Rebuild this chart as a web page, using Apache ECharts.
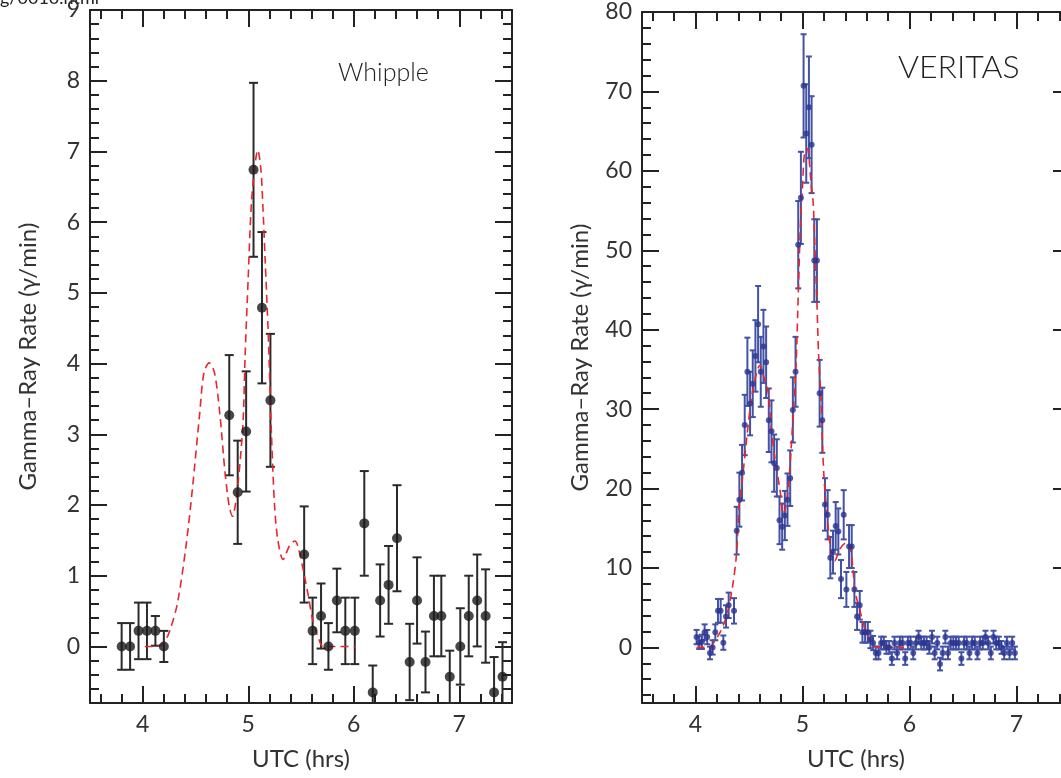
<!DOCTYPE html>
<html>
<head>
<meta charset="utf-8">
<script src="https://cdn.jsdelivr.net/npm/echarts@6/dist/echarts.min.js"></script>
<style>
html,body{margin:0;padding:0;background:#fff;}
#chart{width:1061px;height:778px;}
</style>
</head>
<body>
<div id="chart"></div>
<script>
// ---------- Whipple (left panel) ----------
const whippleTime = [3.80, 3.88, 3.96, 4.04, 4.12, 4.20, 4.82, 4.90, 4.98, 5.05, 5.13, 5.21,
  5.53, 5.61, 5.69, 5.76, 5.84, 5.92, 6.01, 6.10, 6.18, 6.25, 6.33, 6.41, 6.53, 6.60, 6.68,
  6.76, 6.83, 6.91, 7.01, 7.09, 7.17, 7.25, 7.33, 7.41];
const whippleRate = [0, 0, 0.22, 0.22, 0.22, 0, 3.27, 2.18, 3.04, 6.74, 4.79, 3.48,
  1.30, 0.22, 0.43, 0, 0.65, 0.22, 0.22, 1.74, -0.65, 0.65, 0.87, 1.53, -0.22, 0.65, -0.22,
  0.43, 0.43, -0.43, 0, 0.43, 0.65, 0.43, -0.65, -0.43];
const whippleErr = [0.33, 0.33, 0.40, 0.40, 0.21, 0.22, 0.85, 0.73, 0.85, 1.23, 1.07, 0.94,
  0.68, 0.47, 0.46, 0.33, 0.45, 0.47, 0.47, 0.74, 0.38, 0.51, 0.55, 0.75, 0.54, 0.61, 0.43,
  0.57, 0.57, 0.37, 0.54, 0.57, 0.65, 0.66, 0.50, 0.49];
const whippleModelTime = [4.02, 4.13, 4.20, 4.26, 4.33, 4.41, 4.47, 4.54, 4.58, 4.63, 4.68, 4.73,
  4.78, 4.82, 4.85, 4.90, 4.95, 4.97, 5.00, 5.03, 5.07, 5.09, 5.12, 5.14, 5.16, 5.19, 5.22,
  5.25, 5.28, 5.33, 5.39, 5.44, 5.47, 5.52, 5.57, 5.61, 5.67, 5.71, 6.02];
const whippleModelRate = [0, 0, 0.05, 0.24, 0.62, 1.42, 2.22, 3.30, 3.87, 4.01, 3.87, 3.30,
  2.46, 1.98, 1.84, 2.27, 3.16, 4.10, 5.23, 6.27, 6.88, 7.02, 6.74, 6.18, 5.47, 4.40, 3.00,
  1.98, 1.51, 1.23, 1.42, 1.49, 1.42, 1.09, 0.71, 0.38, 0.10, 0, 0];

// ---------- VERITAS (right panel) ----------
const veritasTime = [4.010, 4.035, 4.060, 4.085, 4.110, 4.135, 4.160, 4.185, 4.210, 4.235,
  4.260, 4.285, 4.310, 4.360, 4.385, 4.410, 4.435, 4.460, 4.485, 4.510, 4.535, 4.560, 4.585,
  4.610, 4.635, 4.660, 4.685, 4.710, 4.735, 4.760, 4.785, 4.810, 4.835, 4.860, 4.885, 4.910,
  4.935, 4.960, 4.985, 5.010, 5.035, 5.060, 5.085, 5.110, 5.135, 5.160, 5.185, 5.210, 5.235,
  5.260, 5.285, 5.310, 5.335, 5.360, 5.385, 5.410, 5.435, 5.460, 5.485, 5.510, 5.535, 5.560,
  5.585, 5.610, 5.635, 5.660, 5.685, 5.710, 5.735, 5.760, 5.785, 5.810, 5.835, 5.860, 5.885,
  5.910, 5.935, 5.960, 5.985, 6.010, 6.035, 6.060, 6.085, 6.110, 6.135, 6.160, 6.185, 6.210,
  6.235, 6.260, 6.285, 6.310, 6.335, 6.360, 6.385, 6.410, 6.435, 6.460, 6.485, 6.510, 6.535,
  6.560, 6.585, 6.610, 6.635, 6.660, 6.685, 6.710, 6.735, 6.760, 6.785, 6.810, 6.835, 6.860,
  6.885, 6.910, 6.935, 6.960, 6.985];
const veritasRate = [1.3, 0.6, 0.7, 1.9, 1.3, -0.7, 0.0, 1.9, 4.6, 4.6,
  0.6, 3.9, 5.3, 4.6, 14.7, 18.6, 22.0, 28.0, 34.7, 30.7, 33.2, 36.7, 40.7,
  34.7, 37.9, 35.9, 28.6, 27.2, 23.2, 22.6, 16.0, 15.2, 16.6, 18.6, 21.3, 29.9,
  34.7, 50.7, 56.6, 70.7, 64.7, 68.0, 63.3, 48.7, 48.7, 32.0, 28.6, 18.0, 16.7,
  11.3, 12.0, 15.3, 14.6, 8.6, 16.7, 7.3, 12.7, 12.7, 7.3, 3.9, 5.3, 1.9,
  1.9, 1.9, 1.0, 0.55, -0.7, -0.7, 0.55, 0.55, 0.0, 0.0, -1.4, 0.55, -0.7,
  0.55, 0.55, -1.4, 0.55, 0.55, -0.7, 0.55, 1.3, 0.55, 0.55, 0.55, 0.0, 1.3,
  -0.7, 0.55, -2.1, -0.7, 1.3, -0.7, 0.55, 0.55, 0.55, 0.55, -1.4, 0.55, 0.55,
  -0.7, 0.55, 0.55, -0.7, 0.55, 0.55, 1.3, 0.55, -0.7, 1.3, 0.55, 0.55, 0.0,
  -0.7, 0.55, -0.7, 0.55, -0.7];
const veritasErr = [0.9, 0.8, 0.9, 1.0, 0.9, 0.8, 0.9, 1.0, 1.5, 1.5,
  0.9, 1.4, 1.6, 1.6, 3.0, 3.4, 3.5, 3.8, 4.3, 4.0, 4.2, 4.5, 4.8,
  4.4, 4.6, 4.5, 4.0, 3.9, 3.6, 3.6, 3.0, 2.9, 3.1, 3.3, 3.5, 4.1,
  4.4, 5.5, 5.8, 6.5, 6.2, 6.4, 6.1, 5.2, 5.2, 4.2, 4.1, 3.3, 3.1,
  2.6, 2.7, 3.0, 2.9, 2.4, 3.1, 2.2, 2.7, 2.7, 2.2, 1.7, 1.8, 1.3,
  1.3, 1.3, 1.1, 0.9, 0.8, 0.8, 0.8, 0.8, 0.8, 0.8, 0.8, 0.8, 0.8,
  0.8, 0.8, 0.8, 0.8, 0.8, 0.8, 0.8, 0.8, 0.8, 0.8, 0.8, 0.8, 0.8,
  0.8, 0.8, 0.8, 0.8, 0.8, 0.8, 0.8, 0.8, 0.8, 0.8, 0.8, 0.8, 0.8,
  0.8, 0.8, 0.8, 0.8, 0.8, 0.8, 0.8, 0.8, 0.8, 0.8, 0.8, 0.8, 0.8,
  0.8, 0.8, 0.8, 0.8, 0.8];
const veritasModelTime = [4.01, 4.13, 4.18, 4.23, 4.27, 4.31, 4.35, 4.38, 4.41, 4.44, 4.48, 4.52,
  4.56, 4.60, 4.64, 4.68, 4.71, 4.74, 4.79, 4.82, 4.85, 4.88, 4.91, 4.94, 4.955, 4.965, 4.98,
  5.00, 5.02, 5.045, 5.08, 5.10, 5.11, 5.135, 5.15, 5.175, 5.19, 5.21, 5.24, 5.27, 5.30, 5.35,
  5.41, 5.44, 5.47, 5.49, 5.53, 5.58, 5.63, 5.67, 5.70, 5.95];
const veritasModelRate = [0, 0, 0.8, 1.9, 3.15, 5.0, 8.0, 11.3, 18.1, 21.4, 26.5, 31.1,
  34.0, 35.5, 34.0, 32.0, 27.3, 24.0, 19.8, 16.8, 18.1, 22.3, 28.6, 35.7, 42.0, 46.5, 53.0,
  58.0, 62.4, 62.8, 58.4, 55.9, 52.5, 43.3, 37.0, 30.7, 24.4, 19.5, 15.1, 11.8, 10.9, 12.4,
  13.2, 12.8, 10.1, 7.1, 5.0, 2.5, 0.85, 0.2, 0, 0];

// ---------- axes ticks ----------
const xMajorTicks = [4, 5, 6, 7];
const leftYMajorTicks = [0, 1, 2, 3, 4, 5, 6, 7, 8, 9];
const rightYMajorTicks = [0, 10, 20, 30, 40, 50, 60, 70, 80];
function steps(a, b, s) { const out = []; const n = Math.round((b - a) / s); for (let i = 0; i <= n; i++) out.push(+(a + i * s).toFixed(4)); return out; }
const xMinorTicks = steps(3.6, 7.4, 0.2);
const leftYMinorTicks = steps(-0.6, 8.8, 0.2);
const rightYMinorTicks = steps(-6, 78, 2);

const FONT = 'Lato, "DejaVu Sans", sans-serif';
const AX = '#222';
const TXT = '#333';
const RED = '#e8262d';

function xAxes(gi, min, max) {
  const base = { type: 'value', gridIndex: gi, min: min, max: max, splitLine: { show: false } };
  const line = { show: true, onZero: false, lineStyle: { color: AX, width: 2 } };
  const noLine = { show: false, onZero: false };
  const majTick = { show: true, inside: true, length: 17, lineStyle: { color: AX, width: 2 }, customValues: xMajorTicks };
  const minTick = { show: true, inside: true, length: 9, lineStyle: { color: AX, width: 2 }, customValues: xMinorTicks };
  return [
    Object.assign({}, base, { position: 'bottom', axisLine: line, axisTick: majTick,
      axisLabel: { show: true, customValues: xMajorTicks, margin: 10, fontSize: 23, color: TXT, fontFamily: FONT },
      name: 'UTC (hrs)', nameLocation: 'middle', nameGap: 44,
      nameTextStyle: { fontSize: 24, color: TXT, fontFamily: FONT } }),
    Object.assign({}, base, { position: 'bottom', axisLine: noLine, axisTick: minTick, axisLabel: { show: false } }),
    Object.assign({}, base, { position: 'top', axisLine: line, axisTick: majTick, axisLabel: { show: false } }),
    Object.assign({}, base, { position: 'top', axisLine: noLine, axisTick: minTick, axisLabel: { show: false } })
  ];
}
function yAxes(gi, min, max, major, minor) {
  const base = { type: 'value', gridIndex: gi, min: min, max: max, splitLine: { show: false } };
  const line = { show: true, onZero: false, lineStyle: { color: AX, width: 2 } };
  const noLine = { show: false, onZero: false };
  const majTick = { show: true, inside: true, length: 17, lineStyle: { color: AX, width: 2 }, customValues: major };
  const minTick = { show: true, inside: true, length: 9, lineStyle: { color: AX, width: 2 }, customValues: minor };
  return [
    Object.assign({}, base, { position: 'left', axisLine: line, axisTick: majTick,
      axisLabel: { show: true, customValues: major, margin: 10, fontSize: 23, color: TXT, fontFamily: FONT },
      name: 'Gamma\u2013Ray Rate (\u03b3/min)', nameLocation: 'middle', nameGap: 50, nameRotate: 90,
      nameTextStyle: { fontSize: 24, color: TXT, fontFamily: FONT } }),
    Object.assign({}, base, { position: 'left', axisLine: noLine, axisTick: minTick, axisLabel: { show: false } }),
    Object.assign({}, base, { position: 'right', axisLine: line, axisTick: majTick, axisLabel: { show: false } }),
    Object.assign({}, base, { position: 'right', axisLine: noLine, axisTick: minTick, axisLabel: { show: false } })
  ];
}

function errorSeries(gi, xs, ys, es, color, capW, lw) {
  return {
    type: 'custom', xAxisIndex: gi * 4, yAxisIndex: gi * 4, z: 2, silent: true,
    data: xs.map((x, i) => [x, ys[i] - es[i], ys[i] + es[i]]),
    encode: { x: 0, y: [1, 2] },
    renderItem: function (params, api) {
      const cs = params.coordSys;
      const lo = api.coord([api.value(0), api.value(1)]);
      const hi = api.coord([api.value(0), api.value(2)]);
      const top = cs.y, bot = cs.y + cs.height;
      const x = lo[0];
      const yLo = Math.min(lo[1], bot), yHi = Math.max(hi[1], top);
      const style = { stroke: color, lineWidth: lw, fill: null };
      const ch = [{ type: 'line', shape: { x1: x, y1: yLo, x2: x, y2: yHi }, style: style }];
      const h = capW / 2;
      if (lo[1] <= bot) ch.push({ type: 'line', shape: { x1: x - h, y1: lo[1], x2: x + h, y2: lo[1] }, style: style });
      if (hi[1] >= top) ch.push({ type: 'line', shape: { x1: x - h, y1: hi[1], x2: x + h, y2: hi[1] }, style: style });
      return { type: 'group', children: ch };
    }
  };
}
function zip(a, b) { return a.map((v, i) => [v, b[i]]); }

const chart = echarts.init(document.getElementById('chart'), null, { renderer: 'canvas' });
chart.setOption({
  animation: false,
  backgroundColor: '#ffffff',
  grid: [
    { left: 90, top: 10, width: 422, height: 693, containLabel: false, outerBoundsMode: 'none' },
    { left: 642, top: 12, width: 428, height: 691, containLabel: false, outerBoundsMode: 'none' }
  ],
  xAxis: xAxes(0, 3.5, 7.5).concat(xAxes(1, 3.5, 7.5)),
  yAxis: yAxes(0, -0.8, 9, leftYMajorTicks, leftYMinorTicks).concat(yAxes(1, -7, 80, rightYMajorTicks, rightYMinorTicks)),
  series: [
    errorSeries(0, whippleTime, whippleRate, whippleErr, '#2a2a2a', 9, 2),
    { type: 'line', xAxisIndex: 0, yAxisIndex: 0, data: zip(whippleModelTime, whippleModelRate), showSymbol: false, smooth: 0.3, z: 3,
      lineStyle: { color: RED, width: 1.6, type: [8, 5] } },
    { type: 'scatter', xAxisIndex: 0, yAxisIndex: 0, data: zip(whippleTime, whippleRate), symbol: 'circle', symbolSize: 10, z: 4,
      itemStyle: { color: '#1a1a1a' } },
    errorSeries(1, veritasTime, veritasRate, veritasErr, '#4352a5', 6, 2),
    { type: 'line', xAxisIndex: 4, yAxisIndex: 4, data: zip(veritasModelTime, veritasModelRate), showSymbol: false, smooth: 0.3, z: 3,
      lineStyle: { color: RED, width: 1.6, type: [8, 5] } },
    { type: 'scatter', xAxisIndex: 4, yAxisIndex: 4, data: zip(veritasTime, veritasRate), symbol: 'circle', symbolSize: 6, z: 4,
      itemStyle: { color: '#2b3590' } }
  ],
  graphic: [
    { type: 'text', left: 338, top: 60, style: { text: 'Whipple', fill: '#222', font: '300 25px ' + FONT } },
    { type: 'text', left: 898, top: 52, style: { text: 'VERITAS', fill: '#222', font: '300 32px ' + FONT } },
    { type: 'text', left: 0, top: -11, style: { text: 'g/0010.html', fill: '#222', font: '18px ' + FONT } }
  ]
});
</script>
</body>
</html>
